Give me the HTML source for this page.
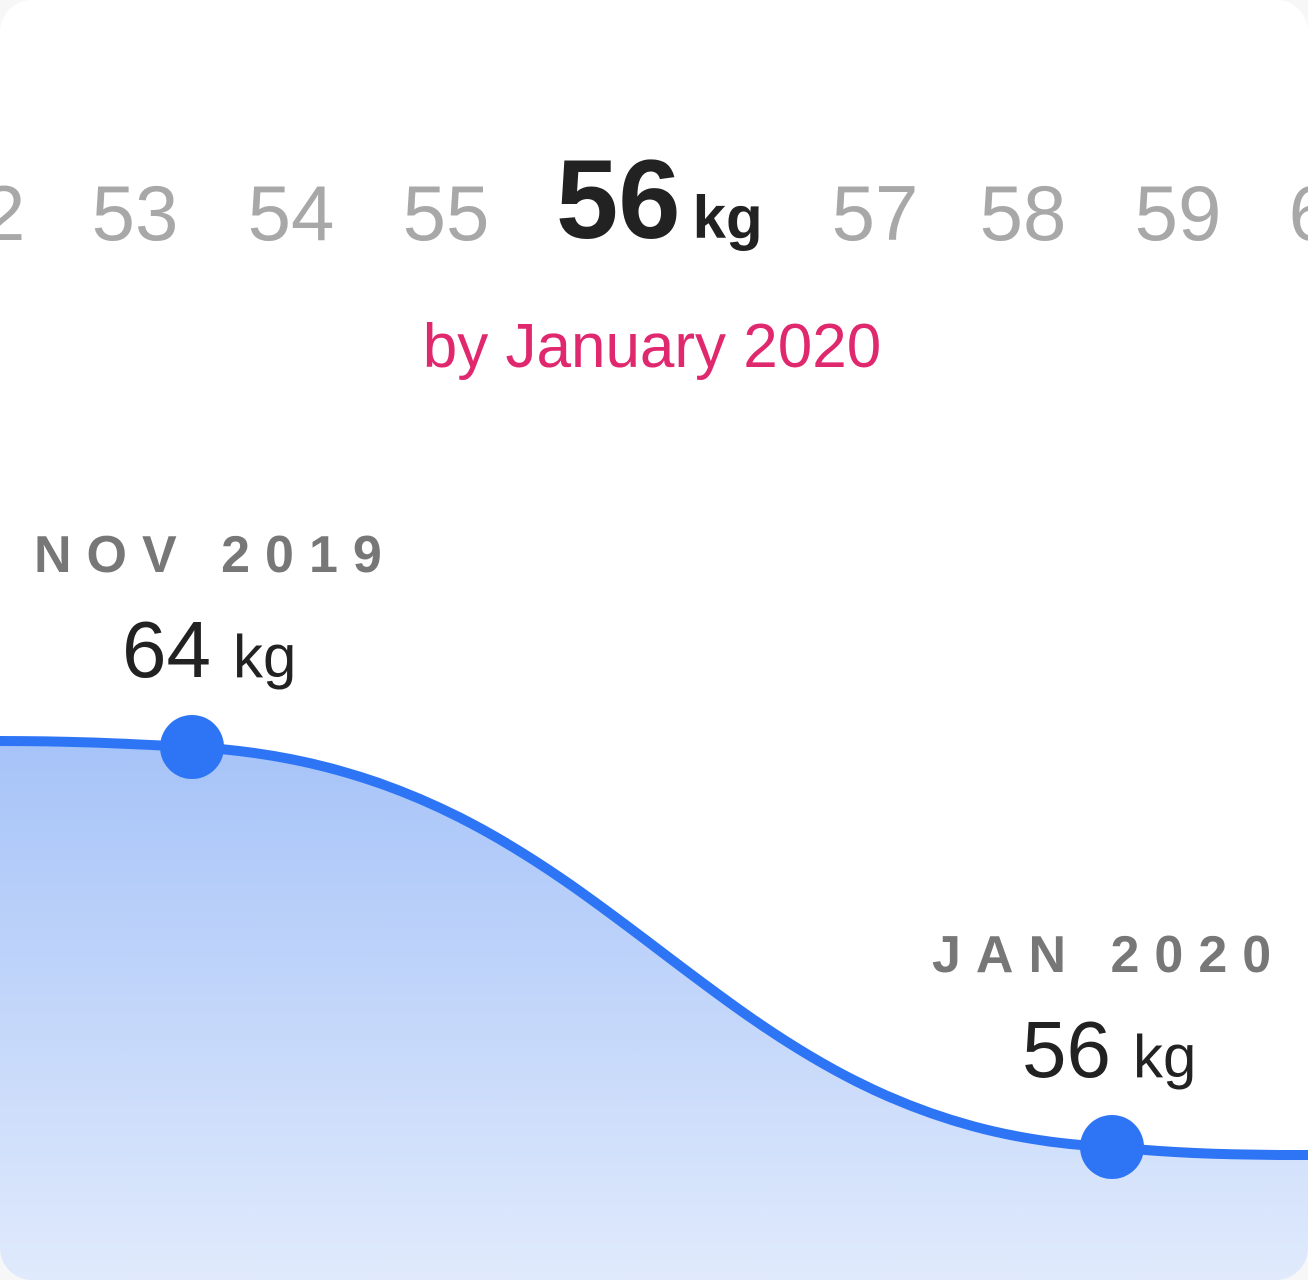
<!DOCTYPE html>
<html><head><meta charset="utf-8"><style>
html,body{margin:0;padding:0;background:#f7f7f7;}
#card{position:relative;width:1308px;height:1280px;background:#fff;border-radius:32px;overflow:hidden;font-family:"Liberation Sans",sans-serif;}
svg{position:absolute;left:0;top:0;}
</style></head><body>
<div id="card">
<svg id="chart" width="1308" height="1280">
<defs><linearGradient id="fillg" x1="0" y1="0" x2="0" y2="1">
<stop offset="0" stop-color="#a6c3f8"/><stop offset="1" stop-color="#e0eafc"/></linearGradient></defs>
</svg>
</div>
<script>
const scaleValues=[52,53,54,55,56,57,58,59,60];
const scaleCenters=[-18,135,291,446,0,875,1023,1178,1332];
const selectedWeight=56;
const pointLabels=["NOV 2019","JAN 2020"];
const pointWeights=[64,56];
const pointX=[192,1112];
const svg=document.getElementById('chart');
const NS='http://www.w3.org/2000/svg';
function yScale(w){return 747+(64-w)*50;}
function mk(t,a){const e=document.createElementNS(NS,t);for(const k in a)e.setAttribute(k,a[k]);svg.appendChild(e);return e;}
scaleValues.forEach((v,i)=>{
  if(v===selectedWeight){
    const t=mk('text',{x:556,y:238,'font-size':112,'font-weight':'bold',fill:'#222'});
    
    
    t.innerHTML='56<tspan font-size="60" dx="12">kg</tspan>';
  } else {
    const t=mk('text',{x:scaleCenters[i],y:240,'font-size':78,fill:'#a8a8a8','text-anchor':'middle'});
    
    
    t.textContent=v;
  }
});
const sub=mk('text',{x:652,y:367,'font-size':62,fill:'#e0286e','text-anchor':'middle'});


sub.textContent='by January 2020';
const x0=pointX[0],y0=yScale(pointWeights[0]),x1=pointX[1],y1=yScale(pointWeights[1]);
const curve=`M0,${y0-6} C80,${y0-6} 130,${y0-3} ${x0},${y0} C620,${y0+23} 700,${y1-17} ${x1},${y1} C1180,${y1+7} 1240,${y1+8} 1308,${y1+8}`;
const area=mk('path',{d:curve+' L1308,1280 L0,1280 Z',fill:'url(#fillg)'});


const line=mk('path',{d:curve,fill:'none',stroke:'#2e75f5','stroke-width':10});


pointWeights.forEach((w,i)=>{
  const cx=pointX[i],cy=yScale(w);
  const c=mk('circle',{cx:cx,cy:cy,r:32,fill:'#2e75f5'});
  
  
  const lx=i===0?34:932;
  const lb=mk('text',{x:lx,y:cy-175,'font-size':52,'font-weight':'bold',fill:'#777','letter-spacing':15});
  
  
  lb.textContent=pointLabels[i];
  const vx=i===0?122:1022;
  const vl=mk('text',{x:vx,y:cy-70,'font-size':80,fill:'#222'});
  
  
  vl.innerHTML=w+'<tspan font-size="60" dx="22">kg</tspan>';
});
</script>
</body></html>
